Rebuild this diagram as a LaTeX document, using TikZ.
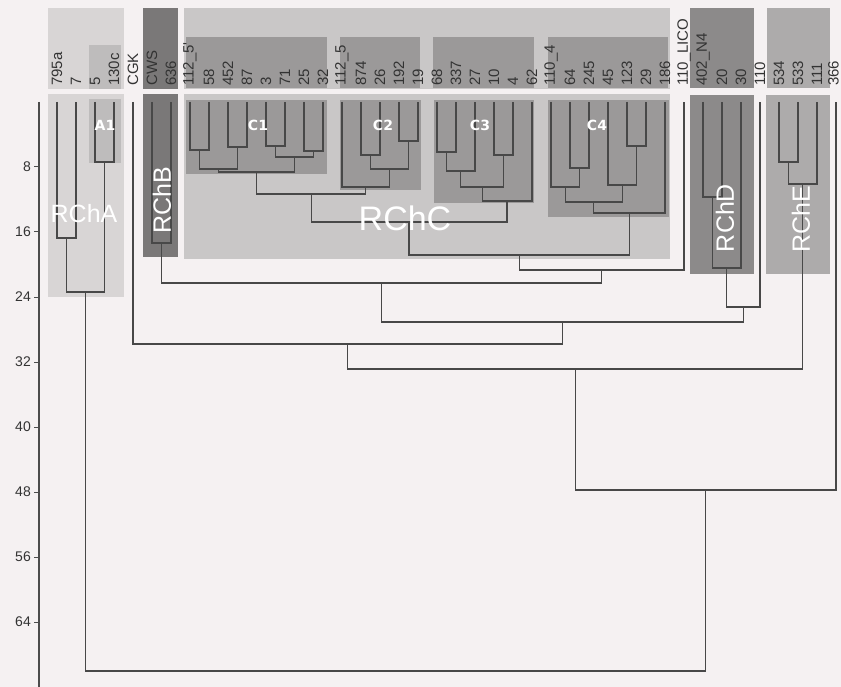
\documentclass[tikz,border=0pt]{standalone}
\usepackage{fontspec}
\setmainfont{Liberation Sans}
\newfontfamily\grpfont{DejaVu Sans}
\usepackage{xcolor}
\usepackage{tikz}
\definecolor{bgpink}{RGB}{245,241,242}
\definecolor{grpA}{RGB}{216,213,213}
\definecolor{subA}{RGB}{190,188,188}
\definecolor{grpB}{RGB}{122,120,120}
\definecolor{grpC}{RGB}{201,199,199}
\definecolor{subC}{RGB}{155,153,153}
\definecolor{grpD}{RGB}{140,138,138}
\definecolor{grpE}{RGB}{173,171,171}
\definecolor{branchgray}{RGB}{72,72,72}

\begin{document}
\begin{tikzpicture}[x=1pt, y=-1pt,
  branch/.style={draw=branchgray, line width=1.2pt},
  leaflab/.style={rotate=90, anchor=west, inner sep=0pt, text=black!80, font=\fontsize{15}{15}\selectfont},
  ticklab/.style={anchor=east, inner sep=0pt, text=black!80, font=\fontsize{14}{14}\selectfont},
  sublab/.style={text=white, font=\grpfont\bfseries\fontsize{14}{14}\selectfont},
  bigrot/.style={text=white, rotate=90, font=\fontsize{25}{25}\selectfont}]
\fill[bgpink] (0,0) rectangle (841,687);
\useasboundingbox (0,0) rectangle (841,687);

% group boxes, label strip
\fill[grpA] (48,8) rectangle (124,89);
\fill[subA] (89,45) rectangle (121,89);
\fill[grpB] (143,8) rectangle (178,89);
\fill[grpC] (184,8) rectangle (670,89);
\fill[subC] (186,37) rectangle (327,88);
\fill[subC] (340,37) rectangle (420,88);
\fill[subC] (433,37) rectangle (534,88);
\fill[subC] (548,37) rectangle (668,88);
\fill[grpD] (690,8) rectangle (754,88);
\fill[grpE] (767,8) rectangle (830,88);

% group boxes, tree part
\fill[grpA] (48,94) rectangle (124,297);
\fill[subA] (89,99) rectangle (121,163);
\fill[grpB] (143,94) rectangle (178,257);
\fill[grpC] (184,94) rectangle (670,259);
\fill[subC] (186,100) rectangle (327,174);
\fill[subC] (340,100) rectangle (421,190);
\fill[subC] (434,100) rectangle (534,203);
\fill[subC] (548,100) rectangle (669,217);
\fill[grpD] (690,95) rectangle (754,274);
\fill[grpE] (766,95) rectangle (830,274);

% leaves
\foreach \lab [count=\i from 0] in {795a,7,5,130c,CGK,CWS,636,112\_5\textquotesingle,58,452,87,3,71,25,32,112\_5,874,26,192,19,68,337,27,10,4,62,110\_4,64,245,45,123,29,186,110\_LICO,402\_N4,20,30,110,534,533,111} {
  \coordinate (l\i) at (57+19*\i,102);
  \node[leaflab] (t\i) at (57+19*\i,86) {\lab};
}
\coordinate (l41) at (836,102);
\node[leaflab] (t41) at (833.5,86) {366};

% axis
\coordinate (ax0) at (39,102);
\coordinate (ax1) at (39,687);
\draw[draw=black!70, line width=1.6pt] (ax0) -- (ax1);
\foreach \v in {8,16,...,64} {
  \draw[draw=black!70, line width=1pt] (34,{102+8.125*\v}) -- (39,{102+8.125*\v});
  \node[ticklab] (y\v) at (31,{102+8.125*\v}) {\v};
}

% RChA
\coordinate (a1) at (66.5,238);
\coordinate (a2) at (104.5,162);
\coordinate (a3) at (85.5,292);
\draw[branch] (l0) |- (a1) -| (l1);
\draw[branch] (l2) |- (a2) -| (l3);
\draw[branch] (a1) |- (a3) -| (a2);

% RChB
\coordinate (b1) at (161.5,243);
\draw[branch] (l5) |- (b1) -| (l6);

% C1
\coordinate (c11) at (199.5,150);
\coordinate (c12) at (237.5,147);
\coordinate (c13) at (275.5,146);
\coordinate (c14) at (313.5,151);
\coordinate (c15) at (294.5,157);
\coordinate (c16) at (218.5,169);
\coordinate (c17) at (256.5,172);
\draw[branch] (l7) |- (c11) -| (l8);
\draw[branch] (l9) |- (c12) -| (l10);
\draw[branch] (l11) |- (c13) -| (l12);
\draw[branch] (l13) |- (c14) -| (l14);
\draw[branch] (c13) |- (c15) -| (c14);
\draw[branch] (c11) |- (c16) -| (c12);
\draw[branch] (c16) |- (c17) -| (c15);

% C2
\coordinate (c21) at (370.5,155);
\coordinate (c22) at (408.5,141);
\coordinate (c23) at (389.5,169);
\coordinate (c24) at (365.75,187);
\draw[branch] (l16) |- (c21) -| (l17);
\draw[branch] (l18) |- (c22) -| (l19);
\draw[branch] (c21) |- (c23) -| (c22);
\draw[branch] (l15) |- (c24) -| (c23);

% C3
\coordinate (c31) at (446.5,152);
\coordinate (c32) at (503.5,155);
\coordinate (c33) at (460.75,171);
\coordinate (c34) at (482.1,187);
\coordinate (c35) at (507,201);
\draw[branch] (l20) |- (c31) -| (l21);
\draw[branch] (l23) |- (c32) -| (l24);
\draw[branch] (c31) |- (c33) -| (l22);
\draw[branch] (c33) |- (c34) -| (c32);
\draw[branch] (c34) |- (c35) -| (l25);

% C4
\coordinate (c41) at (579.5,168);
\coordinate (c42) at (636.5,146);
\coordinate (c43) at (622.25,185);
\coordinate (c44) at (565.25,187);
\coordinate (c45) at (593.75,202);
\coordinate (c46) at (629.4,213);
\draw[branch] (l27) |- (c41) -| (l28);
\draw[branch] (l30) |- (c42) -| (l31);
\draw[branch] (l29) |- (c43) -| (c42);
\draw[branch] (l26) |- (c44) -| (c41);
\draw[branch] (c44) |- (c45) -| (c43);
\draw[branch] (c45) |- (c46) -| (l32);

% RChC and upwards
\coordinate (r1) at (311.1,194);
\coordinate (r2) at (409,222);
\coordinate (r3) at (519.2,255);
\coordinate (r4) at (601.6,270);
\coordinate (r5) at (381.6,283);
\draw[branch] (c17) |- (r1) -| (c24);
\draw[branch] (r1) |- (r2) -| (c35);
\draw[branch] (r2) |- (r3) -| (c46);
\draw[branch] (r3) |- (r4) -| (l33);
\draw[branch] (b1) |- (r5) -| (r4);

% RChD
\coordinate (d1) at (712.5,197);
\coordinate (d2) at (726.75,268);
\coordinate (d3) at (743.4,307);
\draw[branch] (l34) |- (d1) -| (l35);
\draw[branch] (d1) |- (d2) -| (l36);
\draw[branch] (d2) |- (d3) -| (l37);

% RChE
\coordinate (e1) at (788.5,162);
\coordinate (e2) at (802.75,184);
\draw[branch] (l38) |- (e1) -| (l39);
\draw[branch] (e1) |- (e2) -| (l40);

% top levels
\coordinate (r6) at (562.5,322);
\coordinate (r7) at (347.75,344);
\coordinate (r8) at (575.25,369);
\coordinate (r9) at (705.6,490);
\coordinate (r10) at (395.5,671);
\draw[branch] (r5) |- (r6) -| (d3);
\draw[branch] (l4) |- (r7) -| (r6);
\draw[branch] (r7) |- (r8) -| (e2);
\draw[branch] (r8) |- (r9) -| (l41);
\draw[branch] (a3) |- (r10) -| (r9);

% group names
\node[sublab] (nA1) at (105,125) {A1};
\node[sublab] (nC1) at (258,125) {C1};
\node[sublab] (nC2) at (383,125) {C2};
\node[sublab] (nC3) at (480,125) {C3};
\node[sublab] (nC4) at (597,125) {C4};
\node[text=white, font=\fontsize{25}{25}\selectfont] (nRA) at (84,214) {RChA};
\node[text=white, font=\fontsize{34}{34}\selectfont] (nRC) at (405,218) {RChC};
\node[bigrot] (nRB) at (162,200) {RChB};
\node[bigrot] (nRD) at (725,218) {RChD};
\node[bigrot] (nRE) at (801,219) {RChE};
\end{tikzpicture}
\end{document}
